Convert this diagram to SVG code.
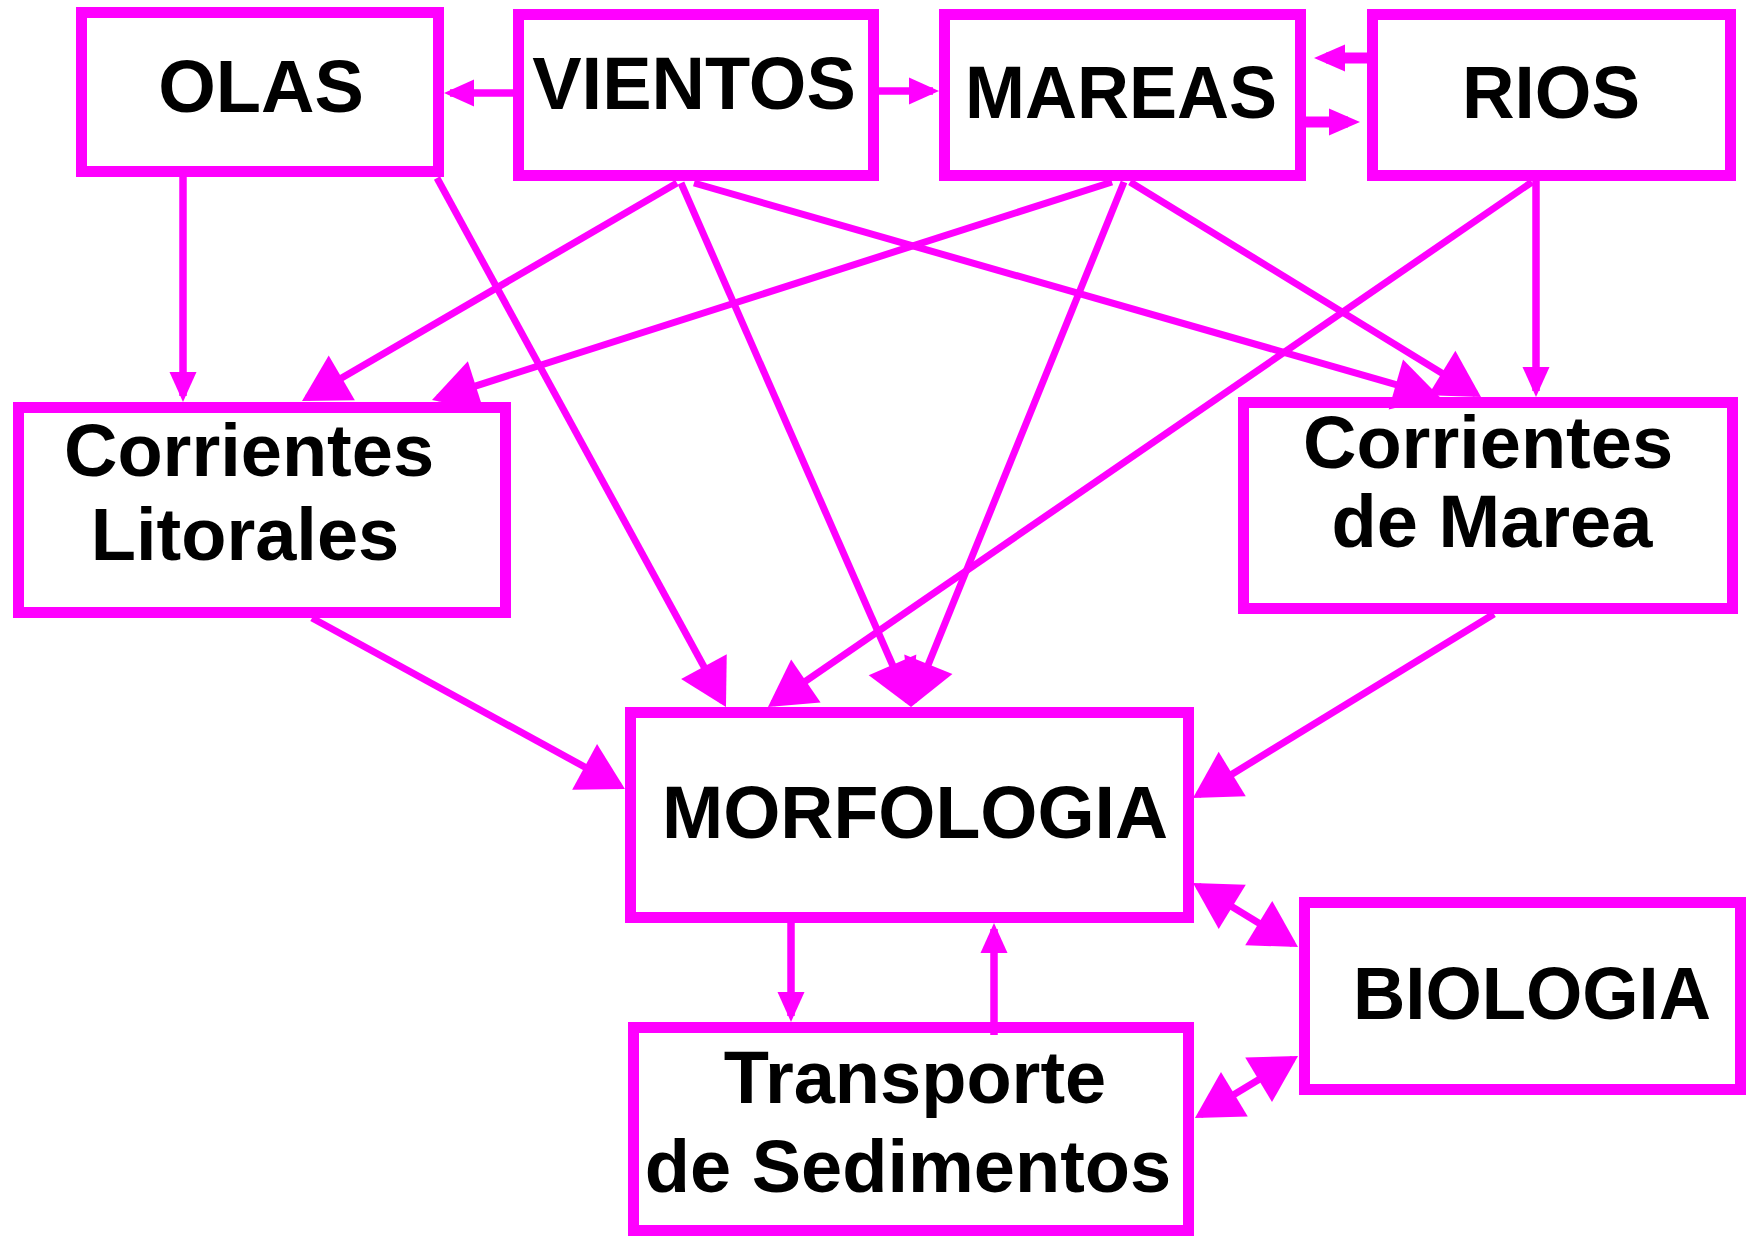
<svg xmlns="http://www.w3.org/2000/svg" width="1748" height="1236" viewBox="0 0 1748 1236">
<style>
.box{fill:#fff;stroke:#f0f;stroke-width:11}
.t{font-family:"Liberation Sans",Arial,Helvetica,sans-serif;font-weight:bold;font-size:74px;fill:#000;text-anchor:middle}
.c{fill:none;stroke:#f0f;stroke-width:7}
.o{fill:none;stroke:#f0f;stroke-width:7.5}
.w{fill:none;stroke:#f0f;stroke-width:11}
.big{marker-end:url(#ab)}
.sm{marker-end:url(#as)}
</style>
<defs>
<marker id="ab" markerUnits="userSpaceOnUse" markerWidth="46" markerHeight="52" viewBox="0 0 46 52" refX="40" refY="26" orient="auto-start-reverse" overflow="visible"><path d="M0,0 L46,26 L0,52 Z" fill="#f0f"/></marker>
<marker id="as" markerUnits="userSpaceOnUse" markerWidth="30" markerHeight="27" viewBox="0 0 30 27" refX="24" refY="13.5" orient="auto" overflow="visible"><path d="M0,0 L30,13.5 L0,27 Z" fill="#f0f"/></marker>
<marker id="aw" markerUnits="userSpaceOnUse" markerWidth="31" markerHeight="27" viewBox="0 0 31 27" refX="19" refY="13.5" orient="auto" overflow="visible"><path d="M0,0 L31,13.5 L0,27 Z" fill="#f0f"/></marker>
</defs>

<g id="node-olas"><rect class="box" x="81.5" y="12.5" width="357" height="159"/><text class="t" x="261" y="112" font-size="72">OLAS</text></g>
<g id="node-vientos"><rect class="box" x="518.5" y="14.5" width="355" height="161"/><text class="t" x="694" y="109">VIENTOS</text></g>
<g id="node-mareas"><rect class="box" x="944.5" y="14.5" width="356" height="161"/><text class="t" x="1121" y="118" style="font-size:75px" textLength="312" lengthAdjust="spacingAndGlyphs">MAREAS</text></g>
<g id="node-rios"><rect class="box" x="1372.5" y="14.5" width="358" height="161"/><text class="t" x="1551" y="118" style="font-size:75px" textLength="178" lengthAdjust="spacingAndGlyphs">RIOS</text></g>
<g id="node-corrientes-litorales"><rect class="box" x="18.5" y="407.5" width="487" height="205"/><text class="t" x="249" y="476">Corrientes</text><text class="t" x="245" y="560">Litorales</text></g>
<g id="node-corrientes-marea"><rect class="box" x="1243.5" y="402.5" width="489" height="206"/><text class="t" x="1488" y="468">Corrientes</text><text class="t" x="1492" y="547">de Marea</text></g>
<g id="node-morfologia"><rect class="box" x="630.5" y="712.5" width="558" height="205"/><text class="t" x="915" y="838" style="font-size:75px" textLength="506" lengthAdjust="spacingAndGlyphs">MORFOLOGIA</text></g>
<g id="node-transporte"><rect class="box" x="633.5" y="1027.5" width="555" height="203"/><text class="t" x="915" y="1103">Transporte</text><text class="t" x="908" y="1192">de Sedimentos</text></g>
<g id="node-biologia"><rect class="box" x="1304.5" y="902.5" width="436" height="187"/><text class="t" x="1532" y="1019" style="font-size:75px" textLength="358" lengthAdjust="spacingAndGlyphs">BIOLOGIA</text></g>

<g id="connectors">
<path class="o sm" d="M513,93 L450,93"/>
<path class="o sm" d="M879,91 L933,91"/>
<path class="w" d="M1367,58 L1326,58" marker-end="url(#aw)"/>
<path class="w" d="M1306,122 L1348,122" marker-end="url(#aw)"/>
<path class="o sm" d="M183,177 L183,396"/>
<path class="o sm" d="M1536,181 L1536,391"/>
<path class="o sm" d="M791,923 L791,1016"/>
<path class="o sm" d="M994,1035 L994,929"/>
<path class="c big" d="M437,178 L723.1,701.7"/>
<path class="c big" d="M677,183 L307.2,398"/>
<path class="c big" d="M1112,182 L437.7,398.2"/>
<path class="c big" d="M681,183 L908.6,701.5"/>
<path class="c big" d="M694,183 L1434.3,395.6"/>
<path class="c big" d="M1130,182 L1475.9,393.9"/>
<path class="c big" d="M1124,182 L913.3,701.4"/>
<path class="c big" d="M1532,182 L772.9,703.6"/>
<path class="c big" d="M312,618 L619.7,786.1"/>
<path class="c big" d="M1494,614 L1198.1,794.9"/>
<path class="c big" d="M1198.1,886.1 L1292.9,943.9" marker-start="url(#ab)"/>
<path class="c big" d="M1200.1,1114.9 L1292.9,1059.1" marker-start="url(#ab)"/>
</g>
</svg>
